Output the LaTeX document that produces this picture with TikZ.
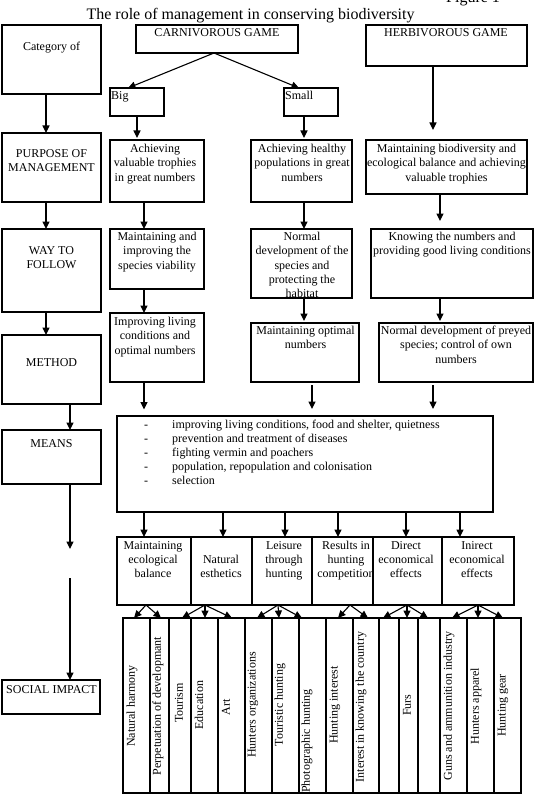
\documentclass[tikz,border=0pt]{standalone}
\usepackage{fontspec}
\setmainfont{Liberation Serif}
\usetikzlibrary{arrows.meta}
\newcommand\mlc[1]{\begin{tabular}[t]{@{}c@{}}#1\end{tabular}}
\newcommand\mll[1]{\begin{tabular}[t]{@{}l@{}}#1\end{tabular}}
\begin{document}
\begin{tikzpicture}[x=1pt,y=-1pt,
  every node/.style={font=\fontsize{12}{14.3}\selectfont},
  box/.style={draw, line width=1.1pt, fill=white, inner sep=0pt, outer sep=0pt, anchor=north west},
  txt/.style={inner sep=0pt, anchor=base},
  coltxt/.style={inner sep=0pt, rotate=90, anchor=center},
  arr/.style={line width=1.1pt, -{Triangle[length=7.5pt,width=7pt]}}]
\useasboundingbox (0,0) rectangle (534,805);
\fill[white] (0,0) rectangle (534,805);
% title
\node[txt, font=\fontsize{16}{19}\selectfont] (title) at (250.5,19.5) {The role of management in conserving biodiversity};
\node[anchor=base west, inner sep=0pt, font=\fontsize{16}{19}\selectfont] (fig) at (446,2.5) {Figure 1};
% left column
\node[box, minimum width=99pt, minimum height=69pt] (cat) at (2,25) {};
\node[txt] at (51.5,51) {Category of};
\node[box, minimum width=99pt, minimum height=69pt] (purpose) at (2,133) {};
\node[txt] at (51.5,157.5) {\mlc{PURPOSE OF\\MANAGEMENT}};
\node[box, minimum width=99pt, minimum height=83pt] (way) at (2,229) {};
\node[txt] at (51.5,254.5) {\mlc{WAY TO\\FOLLOW}};
\node[box, minimum width=99pt, minimum height=69pt] (method) at (2,335) {};
\node[txt] at (51.5,366.5) {METHOD};
\node[box, minimum width=99pt, minimum height=54pt] (means) at (2,430) {};
\node[txt] at (51.5,447.5) {MEANS};
\node[box, minimum width=98pt, minimum height=34pt] (social) at (2,680) {};
\node[txt] at (51.5,693) {SOCIAL IMPACT};
% top
\node[box, minimum width=162pt, minimum height=28pt] (carn) at (136,25) {};
\node[txt] at (217,37) {CARNIVOROUS GAME};
\node[box, minimum width=161pt, minimum height=41pt] (herb) at (366,25) {};
\node[txt] at (446,37) {HERBIVOROUS GAME};
\node[box, minimum width=54pt, minimum height=28pt] (big) at (110,88) {};
\node[anchor=base west, inner sep=0pt] at (111,100) {Big};
\node[box, minimum width=54pt, minimum height=28pt] (small) at (284,88) {};
\node[anchor=base west, inner sep=0pt] at (285,100) {Small};
% purpose row
\node[box, minimum width=94pt, minimum height=62pt] (achval) at (110,140) {};
\node[txt] at (155,152.5) {\mlc{Achieving\\valuable trophies\\in great numbers}};
\node[box, minimum width=101pt, minimum height=62pt] (achhealthy) at (251,140) {};
\node[txt] at (302,152.5) {\mlc{Achieving healthy\\populations in great\\numbers}};
\node[box, minimum width=161pt, minimum height=54pt] (maintbio) at (366,140) {};
\node[txt] at (446.5,152.5) {\mlc{Maintaining biodiversity and\\ecological balance and achieving\\valuable trophies}};
% way row
\node[box, minimum width=94pt, minimum height=60pt] (maintimp) at (110,229) {};
\node[txt] at (157,240.5) {\mlc{Maintaining and\\improving the\\species viability}};
\node[box, minimum width=101pt, minimum height=69pt] (normdev) at (251,229) {};
\node[txt] at (302,240.5) {\mlc{Normal\\development of the\\species and\\protecting the\\habitat}};
\node[box, minimum width=162pt, minimum height=69pt] (knowing) at (371,229) {};
\node[txt] at (452,240.5) {\mlc{Knowing the numbers and\\providing good living conditions}};
% method row
\node[box, minimum width=94pt, minimum height=69pt] (improving) at (110,313) {};
\node[txt] at (155,325.5) {\mlc{Improving living\\conditions and\\optimal numbers}};
\node[box, minimum width=108pt, minimum height=59pt] (maintopt) at (251,323) {};
\node[txt] at (305.5,334.5) {\mlc{Maintaining optimal\\numbers}};
\node[box, minimum width=154pt, minimum height=59pt] (normpreyed) at (379,323) {};
\node[txt] at (456,334.5) {\mlc{Normal development of preyed\\species; control of own\\numbers}};
% means list
\node[box, minimum width=376pt, minimum height=96pt] (list) at (117,416) {};
\node[anchor=base west, inner sep=0pt, font=\fontsize{12}{14.1}\selectfont] (listtxt) at (144,428)
 {\mll{\makebox[28pt][l]{-}improving living conditions, food and shelter, quietness\\
  \makebox[28pt][l]{-}prevention and treatment of diseases\\
  \makebox[28pt][l]{-}fighting vermin and poachers\\
  \makebox[28pt][l]{-}population, repopulation and colonisation\\
  \makebox[28pt][l]{-}selection}};
% outcome boxes
\node[box, minimum width=74pt, minimum height=68pt] (o1) at (117,537) {};
\node[txt] at (153,549) {\mlc{Maintaining\\ecological\\balance}};
\node[box, minimum width=61pt, minimum height=68pt] (o2) at (191,537) {};
\node[txt] at (221,563.5) {\mlc{Natural\\esthetics}};
\node[box, minimum width=60pt, minimum height=68pt] (o3) at (252,537) {};
\node[txt] at (284,549) {\mlc{Leisure\\through\\hunting}};
\node[box, minimum width=61pt, minimum height=68pt] (o4) at (312,537) {};
\node[txt] at (346,549) {\mlc{Results in\\hunting\\competition}};
\node[box, minimum width=69pt, minimum height=68pt] (o5) at (373,537) {};
\node[txt] at (406,549) {\mlc{Direct\\economical\\effects}};
\node[box, minimum width=72pt, minimum height=68pt] (o6) at (442,537) {};
\node[txt] at (477,549) {\mlc{Inirect\\economical\\effects}};
% columns
\node[box, minimum width=27pt, minimum height=175pt] (c1) at (123,618) {};
\node[box, minimum width=19pt, minimum height=175pt] (c2) at (150,618) {};
\node[box, minimum width=22pt, minimum height=175pt] (c3) at (169,618) {};
\node[box, minimum width=27pt, minimum height=175pt] (c4) at (191,618) {};
\node[box, minimum width=27pt, minimum height=175pt] (c5) at (218,618) {};
\node[box, minimum width=27pt, minimum height=175pt] (c6) at (245,618) {};
\node[box, minimum width=27pt, minimum height=175pt] (c7) at (272,618) {};
\node[box, minimum width=27pt, minimum height=175pt] (c8) at (299,618) {};
\node[box, minimum width=27pt, minimum height=175pt] (c9) at (326,618) {};
\node[box, minimum width=26pt, minimum height=175pt] (c10) at (353,618) {};
\node[box, minimum width=20pt, minimum height=175pt] (c11) at (379,618) {};
\node[box, minimum width=19pt, minimum height=175pt] (c12) at (399,618) {};
\node[box, minimum width=22pt, minimum height=175pt] (c13) at (418,618) {};
\node[box, minimum width=27pt, minimum height=175pt] (c14) at (440,618) {};
\node[box, minimum width=27pt, minimum height=175pt] (c15) at (467,618) {};
\node[box, minimum width=27pt, minimum height=175pt] (c16) at (494,618) {};
\node[coltxt] at (132,706) {Natural harmony};
\node[coltxt] at (158,706) {Perpetuation of developmant};
\node[coltxt] at (179,703) {Tourism};
\node[coltxt] at (199,705) {Education};
\node[coltxt] at (226,707) {Art};
\node[coltxt] at (253,705) {Hunters organizations};
\node[coltxt] at (280,705) {Touristic hunting};
\node[inner sep=0pt, rotate=90, anchor=west] at (307,793) {Photographic hunting};
\node[coltxt] at (335,705) {Hunting interest};
\node[coltxt] at (361,707) {Interest in knowing the country};
\node[coltxt] at (407,705) {Furs};
\node[coltxt] at (449,706) {Guns and ammunition industry};
\node[coltxt] at (476,706) {Hunters apparel};
\node[coltxt] at (503,705.5) {Hunting gear};
% left arrows
\draw[arr] ([xshift=-5.5pt]cat.south) -- ([xshift=-5.5pt]purpose.north);
\draw[arr] ([xshift=-5.5pt]purpose.south) -- ([xshift=-5.5pt]way.north);
\draw[arr] ([xshift=-5.5pt]way.south) -- ([xshift=-5.5pt]method.north);
\draw[arr] ([xshift=18.5pt]method.south) -- ([xshift=18.5pt]means.north);
\coordinate (mA) at (70,549);
\coordinate (mB) at (70,578);
\draw[arr] ([xshift=18.5pt]means.south) -- (mA);
\draw[arr] (mB) -- ([xshift=19pt]social.north);
% top arrows
\draw[arr] ([xshift=-3pt]carn.south) -- ([xshift=-9pt]big.north);
\draw[arr] ([xshift=-3pt]carn.south) -- ([xshift=-12pt]small.north);
\draw[arr, shorten >=2pt] (big.south) -- ([xshift=-20pt]achval.north);
\draw[arr, shorten >=2pt] ([xshift=-7pt]small.south) -- ([xshift=2.5pt]achhealthy.north);
\draw[arr, shorten >=10pt] ([xshift=-13.5pt]herb.south) -- ([xshift=-13.5pt]maintbio.north);
\draw[arr] ([xshift=-13pt]achval.south) -- ([xshift=-13pt]maintimp.north);
\draw[arr] ([xshift=2.5pt]achhealthy.south) -- ([xshift=2.5pt]normdev.north);
\draw[arr, shorten >=8pt] ([xshift=-6.5pt]maintbio.south) -- ([xshift=-12pt]knowing.north);
\draw[arr] ([xshift=-13pt]maintimp.south) -- ([xshift=-13pt]improving.north);
\draw[arr, shorten >=2pt] ([xshift=2.5pt]normdev.south) -- ([xshift=-1pt]maintopt.north);
\draw[arr, shorten >=2pt] ([xshift=-12pt]knowing.south) -- ([xshift=-16pt]normpreyed.north);
\draw[arr, shorten >=6.5pt] ([xshift=-13pt]improving.south) -- ([xshift=-161pt]list.north);
\draw[arr, shorten <=3pt, shorten >=7pt] ([xshift=7pt]maintopt.south) -- ([xshift=7pt]list.north);
\draw[arr, shorten <=3pt, shorten >=7pt] ([xshift=-23pt]normpreyed.south) -- ([xshift=128pt]list.north);
% list to outcomes
\draw[arr] ([xshift=-161pt]list.south) -- ([xshift=-10pt]o1.north);
\draw[arr] ([xshift=-82pt]list.south) -- ([xshift=1.5pt]o2.north);
\draw[arr] ([xshift=-20pt]list.south) -- ([xshift=3pt]o3.north);
\draw[arr] ([xshift=33pt]list.south) -- ([xshift=-4.5pt]o4.north);
\draw[arr] ([xshift=101pt]list.south) -- ([xshift=-1.5pt]o5.north);
\draw[arr] ([xshift=155pt]list.south) -- ([xshift=-18pt]o6.north);
% outcomes to columns
\draw[arr] ([xshift=-8pt]o1.south) -- ([xshift=-2.5pt]c1.north);
\draw[arr] ([xshift=-8pt]o1.south) -- ([xshift=1.5pt]c2.north);
\draw[arr] ([xshift=-16.5pt]o2.south) -- ([xshift=2pt]c3.north);
\draw[arr] ([xshift=-16.5pt]o2.south) -- ([xshift=0.5pt]c4.north);
\draw[arr] ([xshift=-16.5pt]o2.south) -- ([xshift=0.5pt]c5.north);
\draw[arr] ([xshift=-4pt]o3.south) -- ([xshift=-1.5pt]c6.north);
\draw[arr] ([xshift=-4pt]o3.south) -- ([xshift=-6.5pt]c7.north);
\draw[arr] ([xshift=-4pt]o3.south) -- ([xshift=-10.5pt]c8.north);
\draw[arr] ([xshift=7.5pt]o4.south) -- ([xshift=-1.5pt]c9.north);
\draw[arr] ([xshift=7.5pt]o4.south) -- ([xshift=2pt]c10.north);
\draw[arr] ([xshift=-0.5pt]o5.south) -- ([xshift=-6pt]c11.north);
\draw[arr] ([xshift=-0.5pt]o5.south) -- ([xshift=-1.5pt]c12.north);
\draw[arr] ([xshift=-0.5pt]o5.south) -- ([xshift=-1pt]c13.north);
\draw[arr] (o6.south) -- ([xshift=-1.5pt]c14.north);
\draw[arr] (o6.south) -- ([xshift=-2.5pt]c15.north);
\draw[arr] (o6.south) -- ([xshift=-4.5pt]c16.north);
\end{tikzpicture}
\end{document}
